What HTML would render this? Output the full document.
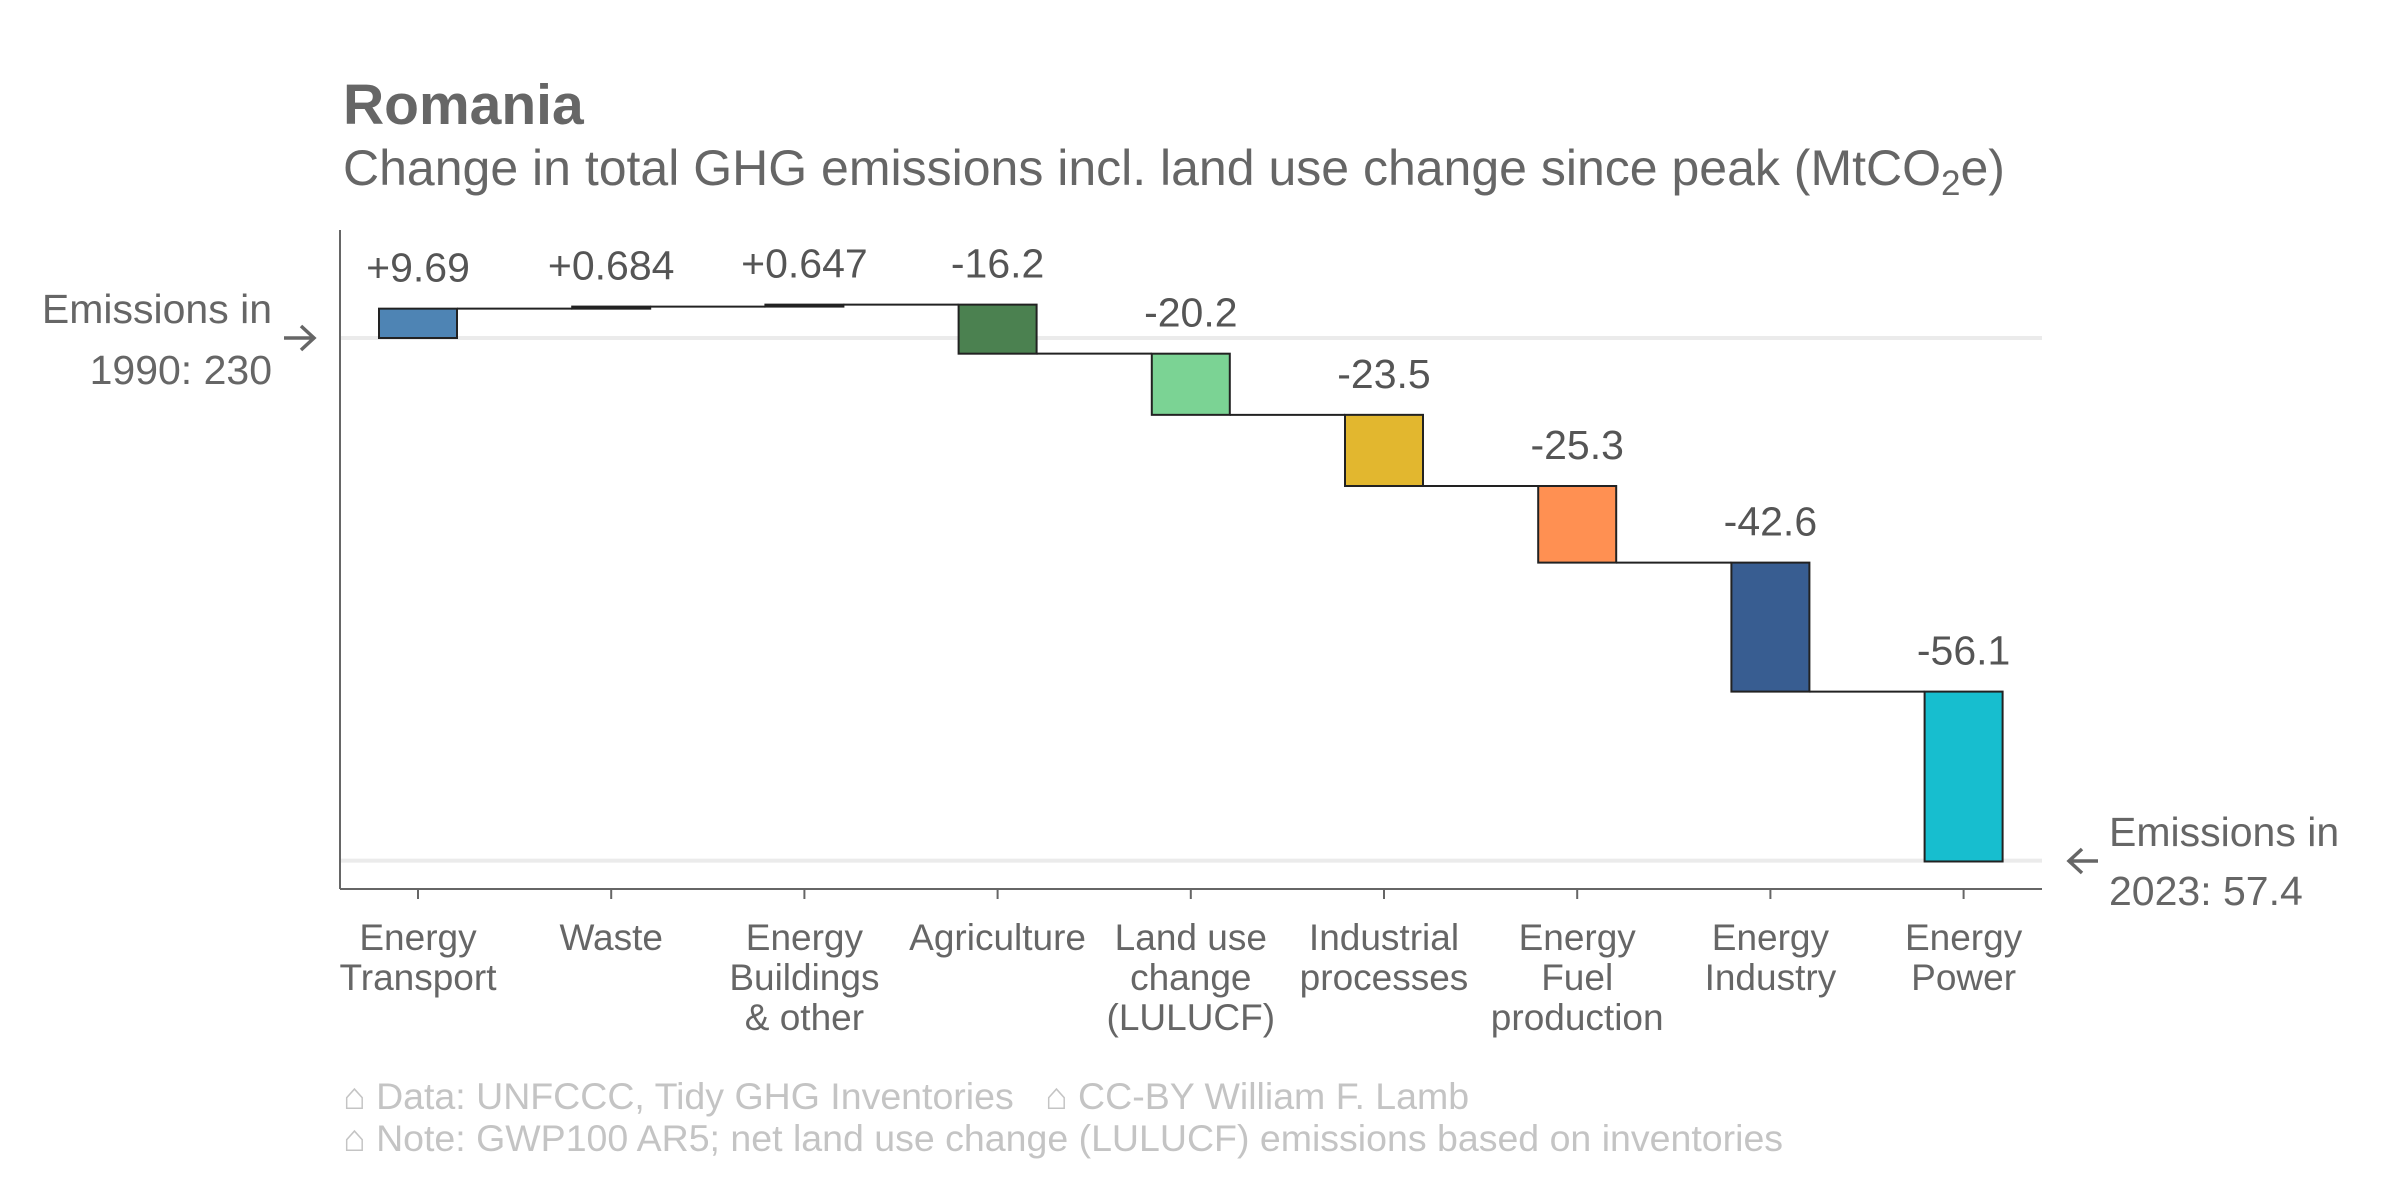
<!DOCTYPE html>
<html><head><meta charset="utf-8">
<style>
html,body{margin:0;padding:0;background:#fff;}
svg{display:block;font-family:"Liberation Sans",Arial,sans-serif;}
</style></head>
<body>
<svg id="chart" width="2400" height="1200" viewBox="0 0 2400 1200">
  <text x="343" y="124" font-size="57" font-weight="bold" fill="#666">Romania</text>
  <text x="343" y="185" font-size="50" fill="#666">Change in total GHG emissions incl. land use change since peak (MtCO<tspan font-size="35" dy="10">2</tspan><tspan dy="-10">e)</tspan></text>
  <g id="plot"></g>
  <text x="272" y="323" font-size="41" fill="#666" text-anchor="end">Emissions in</text>
  <text x="272" y="384" font-size="41" fill="#666" text-anchor="end">1990: 230</text>
  <path d="M284 338 H313 M301 326 L314 338 L301 350" stroke="#666" stroke-width="3.5" fill="none"/>
  <text x="2109" y="846" font-size="41" fill="#666">Emissions in</text>
  <text x="2109" y="905" font-size="41" fill="#666">2023: 57.4</text>
  <path d="M2098 861 H2069 M2082 849 L2069 861 L2082 873" stroke="#666" stroke-width="3.5" fill="none"/>
  <text x="343" y="1109" font-size="37.5" fill="#c4c4c4" xml:space="preserve" style="white-space:pre">⌂ Data: UNFCCC, Tidy GHG Inventories   ⌂ CC-BY William F. Lamb</text>
  <text x="343" y="1151" font-size="37.5" fill="#c4c4c4">⌂ Note: GWP100 AR5; net land use change (LULUCF) emissions based on inventories</text>
</svg>
<script>
const categories = [["Energy","Transport"],["Waste"],["Energy","Buildings","& other"],["Agriculture"],["Land use","change","(LULUCF)"],["Industrial","processes"],["Energy","Fuel","production"],["Energy","Industry"],["Energy","Power"]];
const changes = [9.69, 0.684, 0.647, -16.2, -20.2, -23.5, -25.3, -42.6, -56.1];
const labels = ["+9.69","+0.684","+0.647","-16.2","-20.2","-23.5","-25.3","-42.6","-56.1"];
const colors = ["#4e84b4","#2b2b2b","#2b2b2b","#4b8150","#7bd394","#e2b72f","#ff9052","#385d91","#17becf"];
const startValue = 230;
const endValue = 57.4;

const NS = "http://www.w3.org/2000/svg";
const plot = document.getElementById("plot");
const axL = 340, axR = 2042, axTop = 230, axBottom = 889;
const yScale = v => 338 - (v - startValue) * 3.028;
const xCenter = i => 418 + i * 193.2;
const barW = 78;
function mk(tag, attrs){const e=document.createElementNS(NS,tag);for(const k in attrs)e.setAttribute(k,attrs[k]);plot.appendChild(e);return e;}

let g = mk("line",{x1:axL,x2:axR,y1:yScale(startValue),y2:yScale(startValue),stroke:"#ebebeb","stroke-width":4});


g = mk("line",{x1:axL,x2:axR,y1:yScale(endValue),y2:yScale(endValue),stroke:"#ebebeb","stroke-width":4});



let ax = mk("line",{x1:axL,x2:axL,y1:axTop,y2:axBottom,stroke:"#666","stroke-width":2});


ax = mk("line",{x1:axL,x2:axR,y1:axBottom,y2:axBottom,stroke:"#666","stroke-width":2});



let cum = startValue;
changes.forEach((d,i)=>{
  const a = cum, b = cum + d;
  const cx = xCenter(i);
  const top = yScale(Math.max(a,b)), bot = yScale(Math.min(a,b));
  const r = mk("rect",{x:cx-barW/2,y:top,width:barW,height:Math.max(bot-top,1.5),fill:colors[i],stroke:"#222","stroke-width":2});
  
  
  if(i < changes.length-1){
    const c = mk("line",{x1:cx+barW/2,x2:xCenter(i+1)-barW/2,y1:yScale(b),y2:yScale(b),stroke:"#222","stroke-width":2});
    
    
  }
  const t = mk("text",{x:cx,y:top-27,"font-size":41,fill:"#555","text-anchor":"middle"});
  t.textContent = labels[i];
  
  
  const tk = mk("line",{x1:cx,x2:cx,y1:axBottom,y2:axBottom+10,stroke:"#666","stroke-width":2});
  
  
  categories[i].forEach((ln,j)=>{
    const tl = mk("text",{x:cx,y:950+j*40,"font-size":37,fill:"#666","text-anchor":"middle"});
    tl.textContent = ln;
    
    
  });
  cum = b;
});
</script>
</body></html>
